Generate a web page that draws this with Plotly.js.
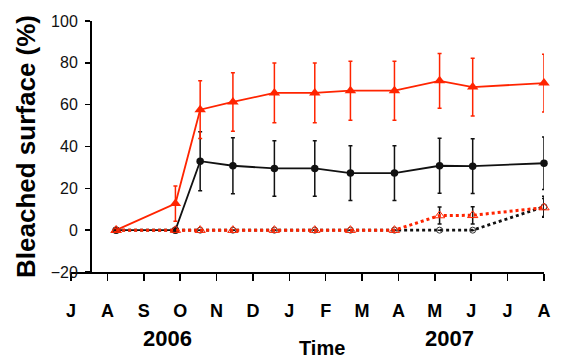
<!DOCTYPE html>
<html>
<head>
<meta charset="utf-8">
<script src="https://cdn.plot.ly/plotly-3.0.1.min.js"></script>
<style>html,body{margin:0;padding:0;background:#fff;}#chart{width:565px;height:359px;}</style>
</head>
<body>
<div id="chart"></div>
<script>
// Month tick labels (Jul 2006 .. Aug 2007), positions as month index
var monthTicks = [0,1,2,3,4,5,6,7,8,9,10,11,12,13];
var monthLabels = ['J','A','S','O','N','D','J','F','M','A','M','J','J','A'];
// Sampling dates as month index from 1 Jul 2006
var sampleTime = [1.24, 2.87, 3.55, 4.45, 5.59, 6.70, 7.68, 8.89, 10.13, 11.04, 13.0];

var blackSolid    = [0, 0, 33.0, 30.8, 29.5, 29.5, 27.3, 27.3, 30.8, 30.6, 32.0];
var blackSolidErr = [0, 0, 14.1, 13.4, 13.3, 13.3, 13.1, 13.1, 13.1, 13.1, 12.5];
var redSolid      = [0, 12.7, 57.6, 61.3, 65.6, 65.6, 66.7, 66.7, 71.4, 68.4, 70.3];
var redSolidErr   = [0, 8.4, 13.8, 14.0, 14.3, 14.3, 14.1, 14.1, 13.1, 13.8, 13.8];
var blackOpen     = [0, 0, 0, 0, 0, 0, 0, 0, 0, 0, 11.2];
var blackOpenErr  = [0, 0, 0, 0, 0, 0, 0, 0, 0, 0, 5.0];
var redOpen       = [0, 0, 0, 0, 0, 0, 0, 0, 7.0, 7.1, 10.8];
var redOpenErr    = [0, 0, 0, 0, 0, 0, 0, 0, 4.1, 4.1, 4.3];

var RED = '#ff2400';
var BLK = '#111111';
var FONT = 'Liberation Sans, Arial, sans-serif';

function errBar(arr, color) {
  return {type: 'data', array: arr, visible: true, color: color, thickness: 1.5, width: 2};
}

var traces = [
  {x: sampleTime, y: blackSolid, mode: 'lines+markers', cliponaxis: false,
   line: {color: BLK, width: 1.8}, marker: {symbol: 'circle', size: 7.5, color: BLK},
   error_y: errBar(blackSolidErr, BLK)},
  {x: sampleTime, y: redSolid, mode: 'lines+markers', cliponaxis: false,
   line: {color: RED, width: 1.8}, marker: {symbol: 'triangle-up', size: 10, color: RED},
   error_y: errBar(redSolidErr, RED)},
  {x: sampleTime, y: blackOpen, mode: 'lines+markers', cliponaxis: false,
   line: {color: BLK, width: 2.8, dash: 'dot'},
   marker: {symbol: 'circle-open', size: 6, color: '#333', line: {width: 1, color: '#333'}},
   error_y: errBar(blackOpenErr, BLK)},
  {x: sampleTime, y: redOpen, mode: 'lines+markers', cliponaxis: false,
   line: {color: RED, width: 3, dash: 'dot'},
   marker: {symbol: 'triangle-up-open', size: 9, color: RED, line: {width: 1, color: RED}},
   error_y: errBar(redOpenErr, BLK)}
];

var layout = {
  width: 565, height: 359,
  margin: {l: 71, r: 21, t: 21, b: 87},
  paper_bgcolor: '#fff', plot_bgcolor: '#fff',
  showlegend: false,
  font: {family: FONT, color: '#000'},
  xaxis: {
    range: [0, 13], tickmode: 'array', tickvals: monthTicks, ticktext: monthLabels,
    ticks: 'outside', ticklen: 7, tickwidth: 1.5, tickcolor: '#000',
    showline: true, linecolor: '#000', linewidth: 1.5,
    showgrid: false, zeroline: false,
    tickfont: {family: FONT, size: 18, color: '#000', weight: 'bold'},
    ticklabelstandoff: 15
  },
  yaxis: {
    range: [-20, 100], tickmode: 'linear', tick0: -20, dtick: 20,
    anchor: 'free', position: 0.0402,
    ticks: 'outside', ticklen: 5, tickwidth: 1.5, tickcolor: '#000',
    showline: true, linecolor: '#000', linewidth: 1.5,
    showgrid: false, zeroline: false,
    tickfont: {family: FONT, size: 16, color: '#111'},
    ticklabelstandoff: 4,
    title: {text: 'Bleached surface (%)', font: {family: FONT, size: 26, color: '#000', weight: 'bold'}, standoff: 6}
  },
  annotations: [
    {text: '2006', xref: 'x', yref: 'paper', x: 2.65, y: -0.263, xanchor: 'center', yanchor: 'middle',
     showarrow: false, font: {family: FONT, size: 22, color: '#000', weight: 'bold'}},
    {text: '2007', xref: 'x', yref: 'paper', x: 10.4, y: -0.263, xanchor: 'center', yanchor: 'middle',
     showarrow: false, font: {family: FONT, size: 22, color: '#000', weight: 'bold'}},
    {text: 'Time', xref: 'paper', yref: 'paper', x: 0.53, y: -0.303, xanchor: 'center', yanchor: 'middle',
     showarrow: false, font: {family: FONT, size: 20, color: '#000', weight: 'bold'}}
  ]
};

Plotly.newPlot('chart', traces, layout, {displayModeBar: false, staticPlot: true});
</script>
</body>
</html>
